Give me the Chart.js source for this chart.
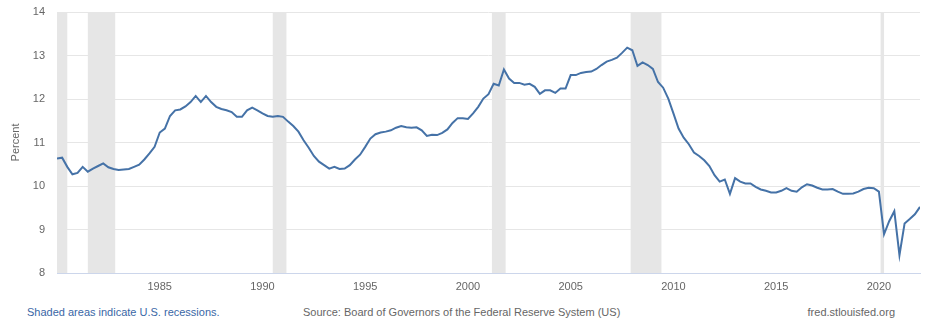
<!DOCTYPE html>
<html>
<head>
<meta charset="utf-8">
<title>Household Debt Service Payments as a Percent of Disposable Personal Income</title>
<script src="https://cdn.jsdelivr.net/npm/chart.js@4"></script>
<style>
    html, body { margin: 0; padding: 0; background: #fff; }
    #wrap { position: relative; width: 936px; height: 332px; font-family: "Liberation Sans", Arial, sans-serif; }
    #chart-box { position: absolute; left: 0; top: 0; width: 936px; height: 296px; }
    .note { position: absolute; top: 305px; font-size: 11px; line-height: 14px; white-space: nowrap; }
    #recession-note { left: 27px; color: #3a67a6; }
    #source-note { left: 303px; color: #666; }
    #site-note { right: 41px; color: #666; }
</style>
</head>
<body>
<div id="wrap">
    <div id="chart-box"><canvas id="debt-chart"></canvas></div>
    <div class="note" id="recession-note">Shaded areas indicate U.S. recessions.</div>
    <div class="note" id="source-note">Source: Board of Governors of the Federal Reserve System (US)</div>
    <div class="note" id="site-note">fred.stlouisfed.org</div>
</div>
<script>
// Quarterly debt service ratio (percent), 1980 Q1 through 2022 Q1
const firstYear = 1980;
const debtService = [
    10.63, 10.65, 10.44, 10.27,   // 1980
    10.30, 10.44, 10.33, 10.40,   // 1981
    10.46, 10.52, 10.43, 10.39,   // 1982
    10.37, 10.38, 10.39, 10.44,   // 1983
    10.49, 10.61, 10.75, 10.90,   // 1984
    11.23, 11.32, 11.61, 11.74,   // 1985
    11.76, 11.83, 11.93, 12.07,   // 1986
    11.93, 12.07, 11.93, 11.82,   // 1987
    11.77, 11.74, 11.70, 11.59,   // 1988
    11.59, 11.74, 11.80, 11.74,   // 1989
    11.67, 11.61, 11.59, 11.61,   // 1990
    11.59, 11.48, 11.38, 11.25,   // 1991
    11.05, 10.88, 10.69, 10.56,   // 1992
    10.48, 10.40, 10.44, 10.39,   // 1993
    10.40, 10.48, 10.61, 10.72,   // 1994
    10.90, 11.09, 11.19, 11.23,   // 1995
    11.25, 11.28, 11.34, 11.38,   // 1996
    11.35, 11.34, 11.35, 11.28,   // 1997
    11.15, 11.18, 11.17, 11.22,   // 1998
    11.30, 11.45, 11.56, 11.56,   // 1999
    11.54, 11.67, 11.82, 12.01,   // 2000
    12.11, 12.35, 12.31, 12.68,   // 2001
    12.47, 12.37, 12.37, 12.33,   // 2002
    12.35, 12.28, 12.12, 12.20,   // 2003
    12.20, 12.14, 12.24, 12.24,   // 2004
    12.55, 12.55, 12.60, 12.62,   // 2005
    12.63, 12.69, 12.78, 12.86,   // 2006
    12.90, 12.95, 13.06, 13.18,   // 2007
    13.12, 12.76, 12.84, 12.78,   // 2008
    12.69, 12.39, 12.26, 12.01,   // 2009
    11.67, 11.32, 11.11, 10.96,   // 2010
    10.77, 10.69, 10.59, 10.46,   // 2011
    10.25, 10.10, 10.15, 9.82,    // 2012
    10.18, 10.10, 10.06, 10.06,   // 2013
    9.98, 9.92, 9.89, 9.85,       // 2014
    9.85, 9.89, 9.95, 9.89,       // 2015
    9.87, 9.97, 10.04, 10.01,     // 2016
    9.96, 9.92, 9.92, 9.93,       // 2017
    9.87, 9.82, 9.82, 9.83,       // 2018
    9.87, 9.93, 9.96, 9.95,       // 2019
    9.87, 8.89, 9.19, 9.42,       // 2020
    8.41, 9.14, 9.24, 9.35,       // 2021
    9.52                          // 2022
];

// NBER recessions, start and end month
const recessionStarts = ['1980-01', '1981-07', '1990-07', '2001-03', '2007-12', '2020-02'];
const recessionEnds   = ['1980-07', '1982-11', '1991-03', '2001-11', '2009-06', '2020-04'];

const xTickYears = [1985, 1990, 1995, 2000, 2005, 2010, 2015, 2020];
const yTickValues = [8, 9, 10, 11, 12, 13, 14];

const monthToYear = s => {
    const [y, m] = s.split('-').map(Number);
    return y + (m - 1) / 12;
};

const points = debtService.map((v, i) => ({ x: firstYear + i / 4, y: v }));

// grey bands behind the line for each recession
const recessionBands = {
    id: 'recessionBands',
    beforeDatasetsDraw(chart) {
        const { ctx, chartArea, scales } = chart;
        ctx.save();
        ctx.fillStyle = '#e6e6e6';
        recessionStarts.forEach((start, i) => {
            const x0 = scales.x.getPixelForValue(monthToYear(start));
            const x1 = scales.x.getPixelForValue(monthToYear(recessionEnds[i]));
            ctx.fillRect(x0, chartArea.top, x1 - x0, chartArea.bottom - chartArea.top);
        });
        ctx.restore();
    }
};

const fontFamily = '"Liberation Sans", Arial, sans-serif';

new Chart(document.getElementById('debt-chart'), {
    type: 'line',
    data: {
        datasets: [{
            label: 'Debt service ratio',
            data: points,
            borderColor: '#4572a7',
            borderWidth: 2,
            pointRadius: 0,
            tension: 0,
            fill: false
        }]
    },
    options: {
        responsive: true,
        maintainAspectRatio: false,
        animation: false,
        layout: { padding: { top: 12, right: 16, left: 0, bottom: 0 } },
        plugins: {
            legend: { display: false },
            tooltip: { enabled: false }
        },
        scales: {
            x: {
                type: 'linear',
                min: 1980,
                max: 2022,
                afterBuildTicks: scale => {
                    scale.ticks = xTickYears.map(v => ({ value: v }));
                },
                afterFit: scale => { scale.height = 23; },
                grid: { display: false, drawTicks: false },
                border: { display: true, color: '#ccd6eb', width: 1 },
                ticks: {
                    color: '#666',
                    padding: 7,
                    maxRotation: 0,
                    autoSkip: false,
                    font: { family: fontFamily, size: 11 },
                    callback: v => String(v)
                }
            },
            y: {
                min: 8,
                max: 14,
                afterBuildTicks: scale => {
                    scale.ticks = yTickValues.map(v => ({ value: v }));
                },
                afterFit: scale => {
                    scale.width = 57;
                    // plot top is set by the layout padding alone
                    scale.paddingTop = 0;
                    scale.paddingBottom = 0;
                },
                grid: { color: '#e6e6e6', drawTicks: false },
                border: { display: false },
                ticks: {
                    color: '#666',
                    padding: 12,
                    font: { family: fontFamily, size: 11 }
                },
                title: {
                    display: true,
                    text: 'Percent',
                    color: '#666',
                    padding: { top: 9, bottom: 0 },
                    font: { family: fontFamily, size: 11 }
                }
            }
        }
    },
    plugins: [recessionBands]
});
</script>
</body>
</html>
